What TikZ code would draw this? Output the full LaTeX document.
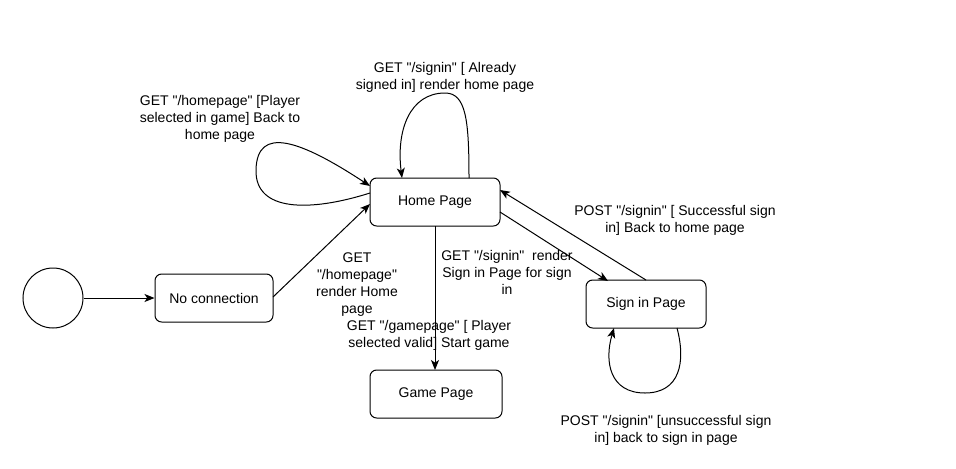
\documentclass[tikz,border=0pt]{standalone}
\usepackage{fontspec}
\setmainfont{Liberation Sans}[Ligatures=TeXOff]
\usetikzlibrary{arrows.meta}
\begin{document}
\begin{tikzpicture}[x=0.75pt,y=-0.75pt,
  font=\fontsize{10.5}{12.75}\selectfont,
  state/.style={draw,rounded corners=5pt,line width=0.75pt,minimum height=36pt,inner sep=0pt},
  conn/.style={line width=0.75pt,-{Stealth[length=7.5pt,width=6pt,inset=2pt]}},
  lbl/.style={align=center,inner sep=0pt}]
\useasboundingbox (0,0) rectangle (956,468);
\node[draw,circle,line width=0.75pt,minimum size=45pt,inner sep=0pt] (init) at (53,298) {};
\node[state,minimum width=88.5pt] (nc) at (214,298) {No connection};
\node[state,minimum width=97.5pt] (home) at (435,202) {Home Page};
\node[state,minimum width=90pt] (sign) at (646,304) {Sign in Page};
\node[state,minimum width=99pt] (game) at (436,394) {Game Page};

\coordinate (ncR) at (273,297);
\coordinate (homeL1) at (370,204);
\coordinate (homeL2) at (370,193);
\coordinate (homeL3) at (370,186);
\coordinate (homeT1) at (469,178);
\coordinate (homeT2) at (402,178);
\coordinate (homeB) at (435,226);
\coordinate (gameT) at (435,370);
\coordinate (homeR1) at (500,212);
\coordinate (homeR2) at (500,190);
\coordinate (signT1) at (608,281);
\coordinate (signT2) at (646,280);
\coordinate (signB1) at (677,328);
\coordinate (signB2) at (614,328);

\draw[conn] (init) -- (nc);
\draw[conn] (ncR) -- (homeL1);
\draw[conn] (homeL2) .. controls (310,212) and (255,212) .. (256,170)
  .. controls (257,125) and (300,140) .. (homeL3);
\draw[conn] (homeT1) .. controls (469,120) and (466,93) .. (445,93)
  .. controls (410,93) and (396,130) .. (homeT2);
\draw[conn] (homeB) -- (gameT);
\draw[conn] (homeR1) -- (signT1);
\draw[conn] (signT2) -- (homeR2);
\draw[conn] (signB1) .. controls (686,362) and (680,393) .. (645,393)
  .. controls (610,393) and (604,362) .. (signB2);

\node[lbl] (l1) at (445,77) {GET "/signin" [ Already\\signed in] render home page};
\node[lbl] (l2) at (220,119) {GET "/homepage" [Player\\selected in game] Back to\\home page};
\node[lbl] (l3) at (357,285) {GET\\"/homepage"\\render Home\\page};
\node[lbl] (l4) at (429,335) {GET "/gamepage" [ Player\\selected valid] Start game};
\node[lbl] (l5) at (507,272) {GET "/signin"\ \ render\\Sign in Page for sign\\in};
\node[lbl] (l6) at (675,220) {POST "/signin" [ Successful sign\\in] Back to home page};
\node[lbl] (l7) at (666,430) {POST "/signin" [unsuccessful sign\\in] back to sign in page};
\end{tikzpicture}
\end{document}
